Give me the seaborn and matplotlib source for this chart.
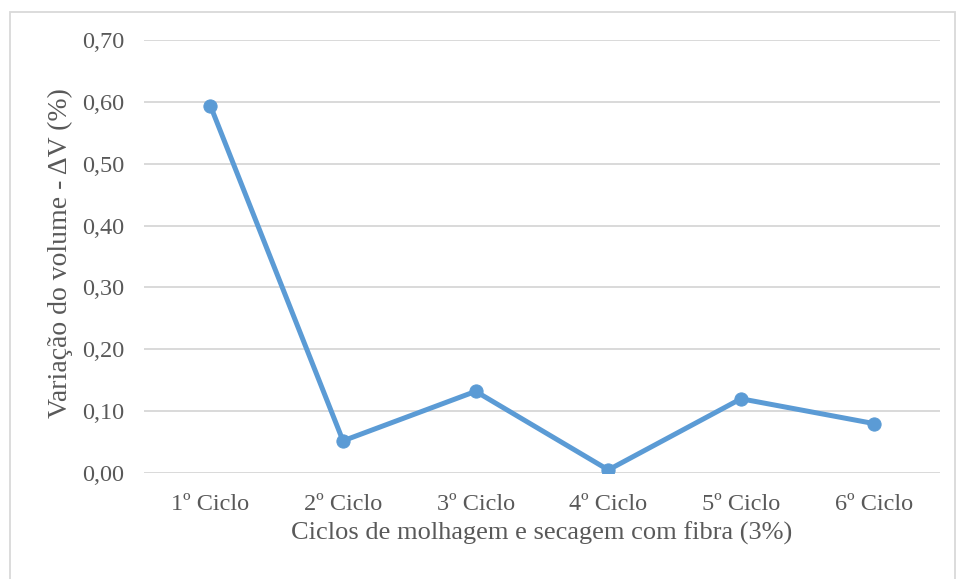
import matplotlib
matplotlib.use("Agg")
import matplotlib.pyplot as plt
import seaborn as sns
import pandas as pd
from matplotlib.patches import Rectangle

categorias = ["1º Ciclo", "2º Ciclo", "3º Ciclo", "4º Ciclo", "5º Ciclo", "6º Ciclo"]
variacao = [0.594, 0.052, 0.132, 0.005, 0.120, 0.080]
yticks = [0.0, 0.1, 0.2, 0.3, 0.4, 0.5, 0.6, 0.7]
ytick_labels = ["0,00", "0,10", "0,20", "0,30", "0,40", "0,50", "0,60", "0,70"]

sns.set_theme(style="white")
plt.rcParams['font.family'] = ['Liberation Serif', 'DejaVu Serif']

df = pd.DataFrame({"ciclo": categorias, "dv": variacao})

fig = plt.figure(figsize=(9.57, 5.79), dpi=100)
ax = fig.add_axes([144/957, 1-473/579, (940-144)/957, (473-40)/579])

sns.lineplot(data=df, x="ciclo", y="dv", ax=ax, color="#5B9BD5", linewidth=3.6,
             marker="o", markersize=9.5, markeredgecolor="#5B9BD5", sort=False)

ax.set_xlim(-0.5, 5.5)
ax.set_ylim(0, 0.7)
ax.set_yticks(yticks)
ax.set_yticklabels(ytick_labels)
ax.yaxis.grid(True, color="#D9D9D9", linewidth=1.4)
ax.set_axisbelow(True)
for s in ax.spines.values():
    s.set_visible(False)
ax.tick_params(axis="both", length=0, labelsize=17.5, labelcolor="#595959")
ax.tick_params(axis="y", pad=14)
ax.tick_params(axis="x", pad=15)
ax.set_xlabel("Ciclos de molhagem e secagem com fibra (3%)", fontsize=19, color="#595959", labelpad=5)
ax.set_ylabel("Variação do volume - ΔV (%)", fontsize=20, color="#595959", labelpad=7)
ax.yaxis.label.set_y(0.508)

fig.patches.append(Rectangle((10/957, -0.01), (955-10)/957, 1-12/579+0.01, transform=fig.transFigure,
                             fill=False, edgecolor="#D9D9D9", linewidth=1.3))

fig.savefig("out.png", dpi=100)
